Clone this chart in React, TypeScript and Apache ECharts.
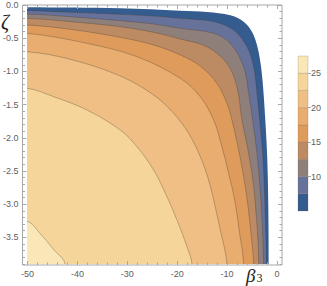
import React, { useEffect, useRef } from "react";
import * as echarts from "echarts";

// contour levels (lower bound of each filled band) and band colours
const levels = [5, 7.5, 10, 12.5, 15, 17.5, 20, 22.5, 25];
const legendLevels = [5, 7.5, 10, 12.5, 15, 17.5, 20, 22.5, 25, 27.5];
const bandColors = ["#345c8f", "#67729a", "#8e7f7b", "#bc8b63", "#de9b5c", "#e8ad6f", "#efbf86", "#f6d59b", "#f9e7b8"];

// contour curves, [beta3, zeta] (from left/top edge to bottom edge)
const contour5 = [[-50, -0.035], [-31.34, -0.05], [-19.34, -0.085], [-14.01, -0.105], [-9.34, -0.156], [-6.67, -0.251], [-5.01, -0.402], [-4.01, -0.602], [-3.34, -0.853], [-2.87, -1.155], [-2.34, -1.732], [-1.94, -2.334], [-1.74, -3.037], [-1.67, -3.9]];
const contour7_5 = [[-50, -0.085], [-41.34, -0.11], [-31.34, -0.141], [-24.67, -0.166], [-19.34, -0.201], [-12.67, -0.251], [-8.67, -0.377], [-6.01, -0.628], [-4.67, -0.929], [-4.01, -1.33], [-3.47, -1.732], [-2.87, -2.234], [-2.54, -2.736], [-2.34, -3.188], [-2.21, -3.539], [-2.14, -3.9]];
const contour10 = [[-50, -0.136], [-41.34, -0.176], [-31.34, -0.236], [-24.67, -0.286], [-19.34, -0.351], [-12.67, -0.427], [-9.34, -0.577], [-6.67, -0.929], [-5.67, -1.33], [-4.87, -1.732], [-4.01, -2.234], [-3.41, -2.736], [-3.01, -3.188], [-2.81, -3.539], [-2.67, -3.9]];
const contour12_5 = [[-50, -0.201], [-41.34, -0.251], [-31.34, -0.326], [-24.67, -0.412], [-19.34, -0.512], [-14.01, -0.628], [-10.01, -0.879], [-8.01, -1.23], [-7.01, -1.732], [-5.67, -2.234], [-4.67, -2.736], [-4.14, -3.188], [-3.81, -3.539], [-3.67, -3.9]];
const contour15 = [[-50, -0.301], [-41.34, -0.366], [-31.34, -0.487], [-24.67, -0.602], [-19.34, -0.753], [-15.34, -0.919], [-12.01, -1.18], [-10.01, -1.481], [-9.01, -1.732], [-7.67, -2.184], [-6.67, -2.585], [-5.87, -2.987], [-5.21, -3.439], [-4.67, -3.9]];
const contour17_5 = [[-50, -0.427], [-38.01, -0.577], [-28.01, -0.778], [-19.34, -1.104], [-15.34, -1.381], [-12.67, -1.732], [-11.01, -2.134], [-9.67, -2.535], [-8.47, -2.937], [-7.47, -3.439], [-6.67, -3.9]];
const contour20 = [[-50, -0.703], [-41.34, -0.818], [-31.34, -1.069], [-24.67, -1.355], [-20.67, -1.632], [-17.67, -1.933], [-15.34, -2.284], [-13.67, -2.636], [-12.67, -2.937], [-11.34, -3.389], [-10.01, -3.9]];
const contour22_5 = [[-50, -1.255], [-44.67, -1.381], [-38.01, -1.581], [-31.34, -1.883], [-28.01, -2.134], [-24.67, -2.485], [-22.01, -2.887], [-20.01, -3.238], [-18.01, -3.64], [-17.01, -3.9]];
const contour25 = [[-50, -3.26], [-47.3, -3.45], [-44.6, -3.69], [-42.4, -3.9]];
const contours = [contour5, contour7_5, contour10, contour12_5, contour15, contour17_5, contour20, contour22_5, contour25];

// ticks
const xTicks = [-50, -40, -30, -20, -10, 0];
const xMinorTicks = [-48, -46, -44, -42, -38, -36, -34, -32, -28, -26, -24, -22, -18, -16, -14, -12, -8, -6, -4, -2];
const yTicks = [0, -0.5, -1, -1.5, -2, -2.5, -3, -3.5];
const yMinorTicks = [-0.1, -0.2, -0.3, -0.4, -0.6, -0.7, -0.8, -0.9, -1.1, -1.2, -1.3, -1.4, -1.6, -1.7, -1.8, -1.9, -2.1, -2.2, -2.3, -2.4, -2.6, -2.7, -2.8, -2.9, -3.1, -3.2, -3.3, -3.4, -3.6, -3.7, -3.8, -3.9];
const legendTicks = [10, 15, 20, 25];

const X_MIN = -51, X_MAX = 1, Y_MIN = -3.916, Y_MAX = 0;
const DATA_X_MIN = -50, DATA_Y_MIN = -3.9;

const frameColor = "#a8a8a8";
const labelColor = "#606060";
const labelFont = "Liberation Sans";

function tickAxis(kind: "x" | "y", position: string, values: number[], len: number, labels: boolean) {
  const base: any = {
    type: "value",
    gridIndex: 0,
    position,
    min: kind === "x" ? X_MIN : Y_MIN,
    max: kind === "x" ? X_MAX : Y_MAX,
    z: 5,
    axisLine: { show: false, onZero: false },
    splitLine: { show: false },
    axisTick: { show: true, inside: true, length: len, customValues: values, lineStyle: { color: frameColor, width: 1 } },
    axisLabel: labels
      ? {
          show: true,
          customValues: values,
          fontSize: 9,
          fontFamily: labelFont,
          color: labelColor,
          margin: 4,
          formatter: (v: number) => (kind === "x" ? String(v) : v.toFixed(1)),
        }
      : { show: false },
  };
  return base;
}

export default function App() {
  const ref = useRef<HTMLDivElement>(null);
  useEffect(() => {
    document.body.style.margin = "0";
    if (!ref.current) return;
    const chart = echarts.init(ref.current, null, { renderer: "svg" });
    const dataHeight = ((DATA_Y_MIN - Y_MAX) / (Y_MIN - Y_MAX)) * 260;
    const option: any = {
      animation: false,
      backgroundColor: "#ffffff",
      grid: [
        { left: 22, top: 5, width: 260, height: 260, show: true, borderColor: frameColor, borderWidth: 1, backgroundColor: "transparent", z: 4 },
        { left: 27, top: 5, width: 255, height: dataHeight },
        { left: 298, top: 56, width: 10, height: 155 },
      ],
      xAxis: [
        tickAxis("x", "bottom", xTicks, 4, true),
        tickAxis("x", "bottom", xMinorTicks, 2.5, false),
        tickAxis("x", "top", xTicks, 4, false),
        tickAxis("x", "top", xMinorTicks, 2.5, false),
        { type: "value", gridIndex: 1, min: DATA_X_MIN, max: X_MAX, show: false },
        { type: "value", gridIndex: 2, min: 0, max: 1, show: false },
      ],
      yAxis: [
        tickAxis("y", "left", yTicks, 4, true),
        tickAxis("y", "left", yMinorTicks, 2.5, false),
        tickAxis("y", "right", yTicks, 4, false),
        tickAxis("y", "right", yMinorTicks, 2.5, false),
        { type: "value", gridIndex: 1, min: DATA_Y_MIN, max: Y_MAX, show: false },
        {
          type: "value",
          gridIndex: 2,
          position: "right",
          min: legendLevels[0],
          max: legendLevels[legendLevels.length - 1],
          axisLine: { show: false, onZero: false },
          splitLine: { show: false },
          axisTick: { show: true, inside: false, length: 3, customValues: legendTicks, lineStyle: { color: frameColor } },
          axisLabel: { show: true, customValues: legendTicks, fontSize: 9, fontFamily: labelFont, color: labelColor, margin: 3 },
        },
      ],
      series: [
        {
          type: "custom",
          xAxisIndex: 4,
          yAxisIndex: 4,
          clip: true,
          z: 2,
          data: levels.map((l, i) => [i, l]),
          renderItem: (params: any, api: any) => {
            const idx = params.dataIndex;
            const pts = contours[idx];
            const first = pts[0];
            const last = pts[pts.length - 1];
            const ext = [[first[0] - 10, first[1]], ...pts, [last[0], last[1] - 1]];
            const pix = ext.map((p) => api.coord(p));
            const corner = api.coord([first[0] - 10, last[1] - 1]);
            const children: any[] = [
              { type: "polygon", shape: { points: [...pix, corner], smooth: 0.35 }, style: { fill: bandColors[idx] } },
            ];
            if (idx > 0) {
              children.push({
                type: "polyline",
                shape: { points: pix, smooth: 0.35 },
                style: { stroke: "rgba(70,55,40,0.45)", lineWidth: 0.7, fill: null },
              });
            }
            return { type: "group", children };
          },
        },
        {
          type: "custom",
          xAxisIndex: 5,
          yAxisIndex: 5,
          data: bandColors.map((c, i) => [i]),
          renderItem: (params: any, api: any) => {
            const i = params.dataIndex;
            const p0 = api.coord([0, legendLevels[i + 1]]);
            const p1 = api.coord([1, legendLevels[i]]);
            return {
              type: "rect",
              shape: { x: p0[0], y: p0[1], width: p1[0] - p0[0], height: p1[1] - p0[1] },
              style: { fill: bandColors[i], stroke: "rgba(110,90,70,0.35)", lineWidth: 0.6 },
            };
          },
        },
      ],
      graphic: [
        { type: "text", left: 1, top: 12, style: { text: "ζ", font: 'italic 20px "Liberation Serif"', fill: "#222" } },
        { type: "text", left: 246, top: 266, style: { text: "β", font: 'italic 19px "Liberation Serif"', fill: "#222" } },
        { type: "text", left: 256.5, top: 272, style: { text: "3", font: '12px "Liberation Serif"', fill: "#222" } },
      ],
    };
    chart.setOption(option);
    return () => chart.dispose();
  }, []);
  return <div ref={ref} style={{ width: 327, height: 286 }} />;
}
